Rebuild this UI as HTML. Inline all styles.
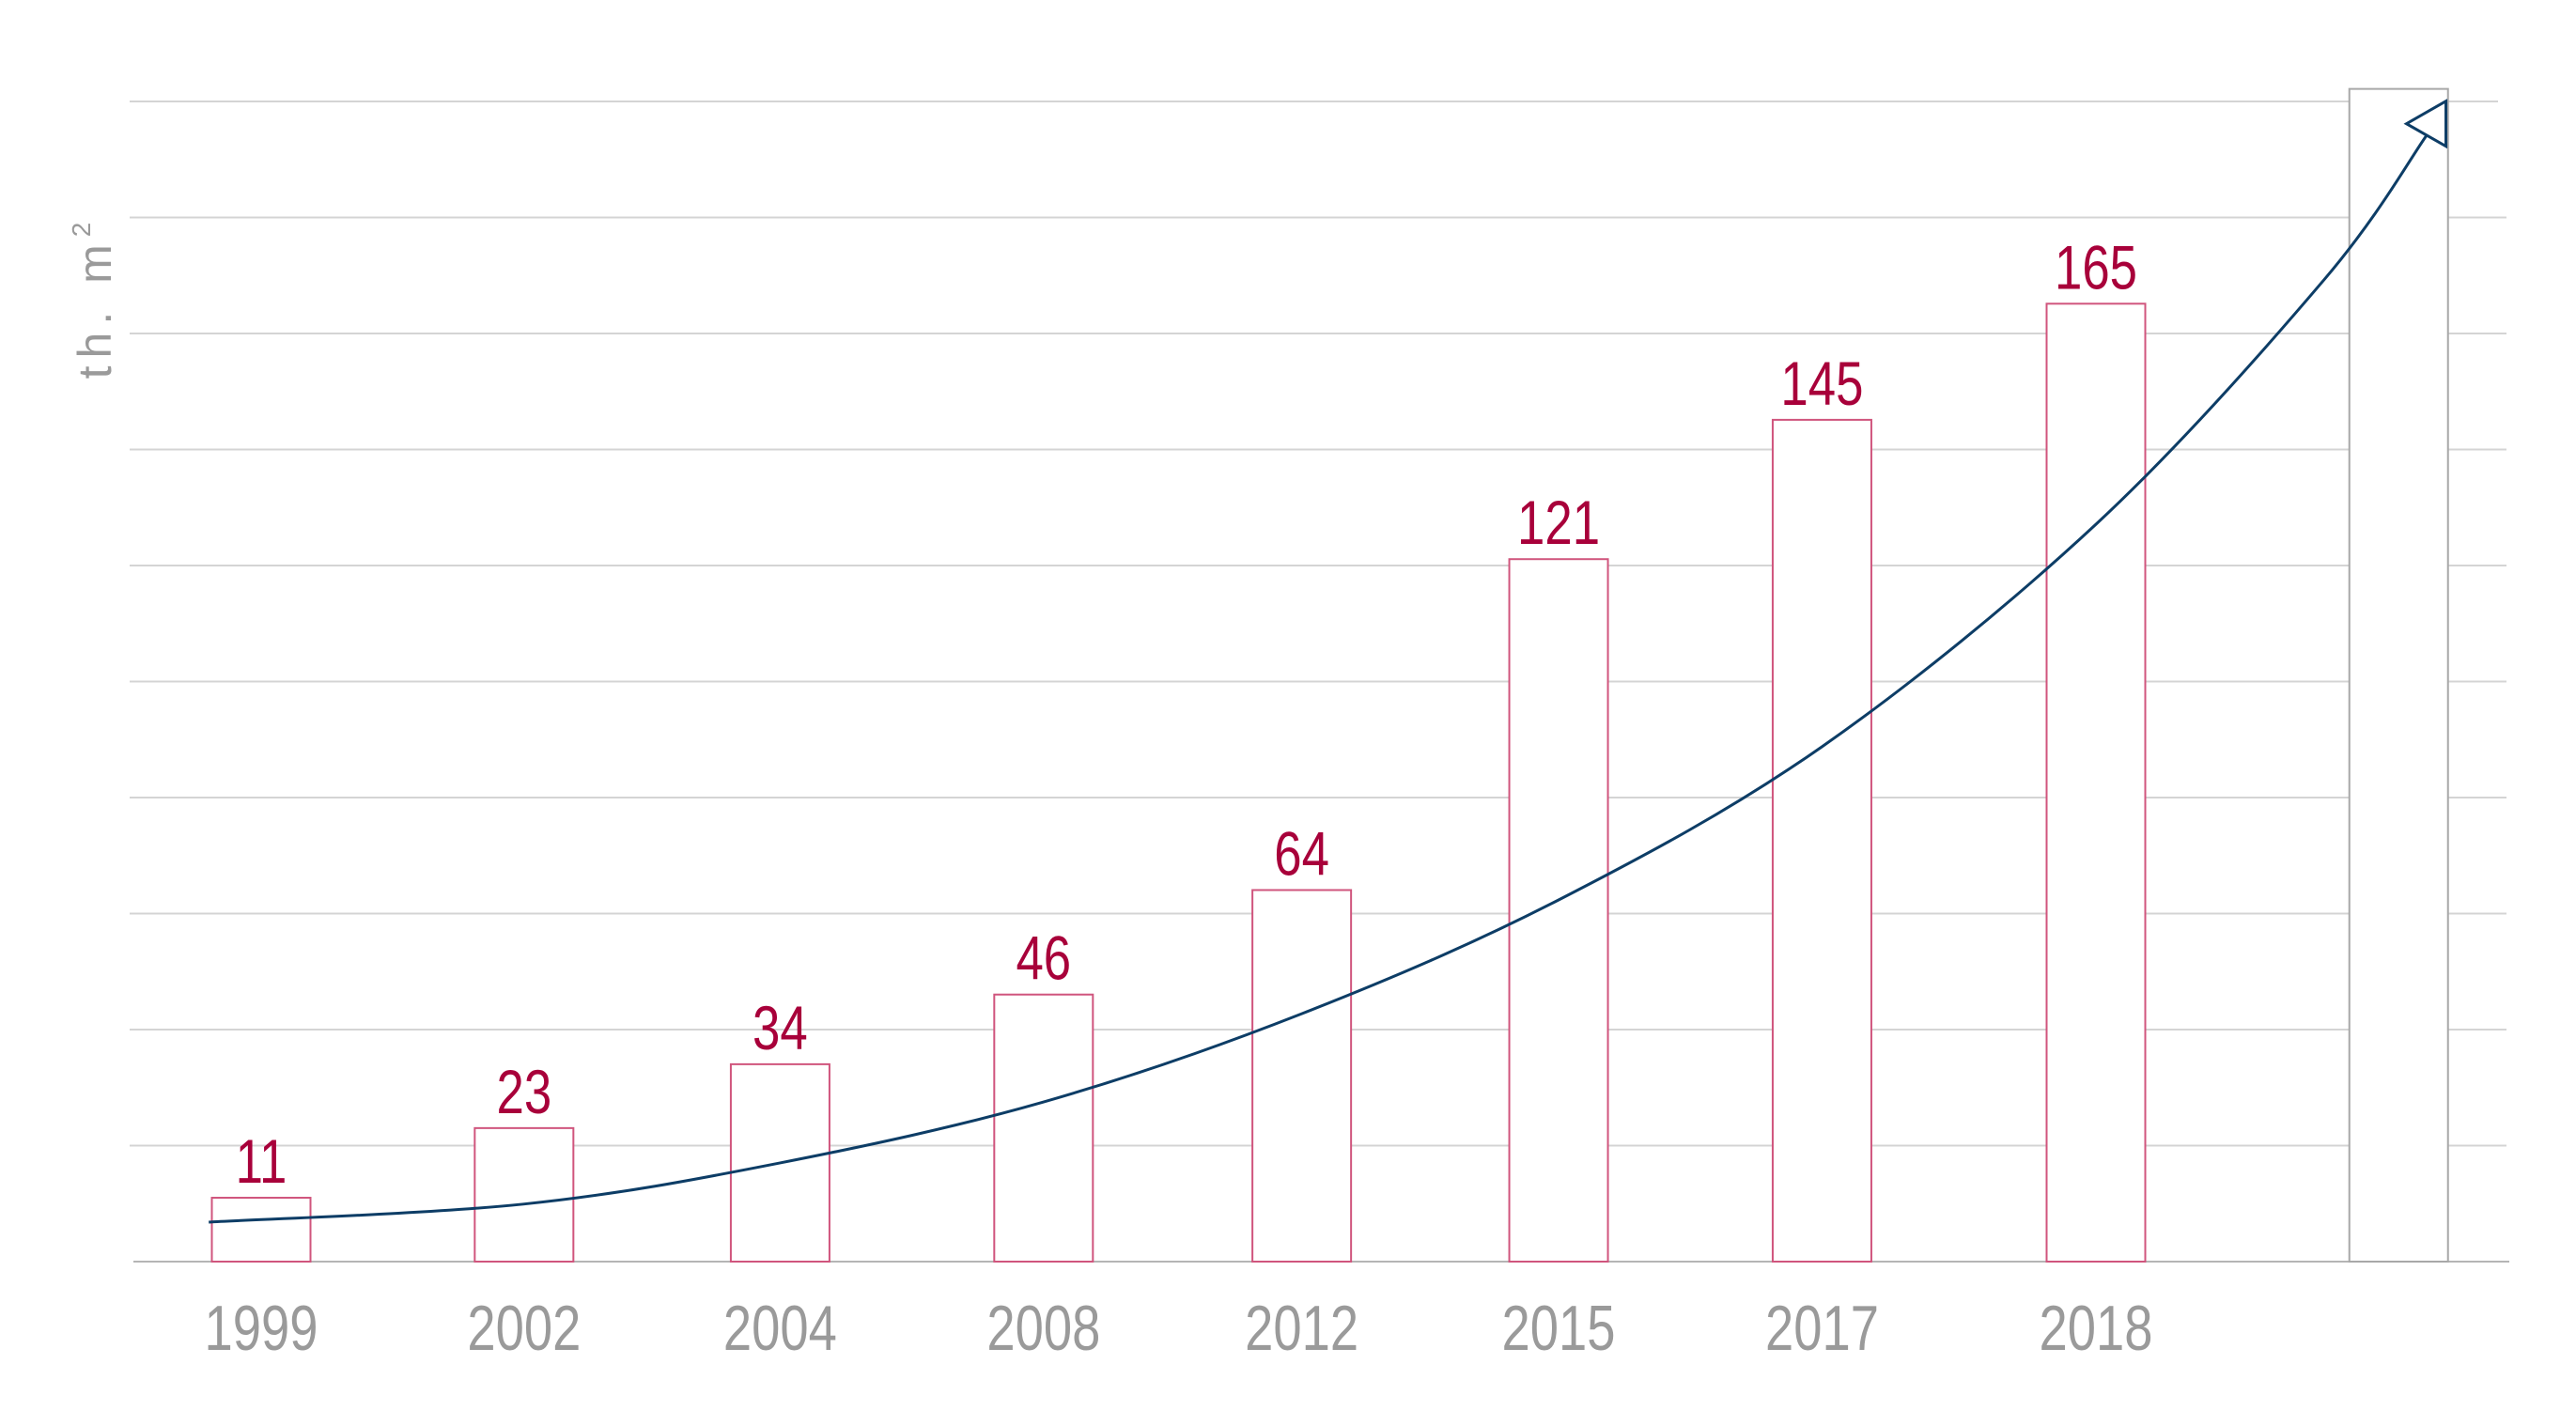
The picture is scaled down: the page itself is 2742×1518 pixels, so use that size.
<!DOCTYPE html>
<html><head><meta charset="utf-8"><style>
html,body{margin:0;padding:0;background:#fff;}
svg{display:block;font-family:"Liberation Sans",sans-serif;}
</style></head><body>
<svg id="chart" width="2742" height="1518" viewBox="0 0 2742 1518" xmlns="http://www.w3.org/2000/svg">
<g id="grid"></g>
<g id="bars"></g>
<g id="labels"></g>
<g id="xlabels"></g>
<g id="trend"></g>
<text transform="translate(118,316) rotate(-90)" text-anchor="middle" font-size="50" fill="#9a9a9a" letter-spacing="8" font-weight="300">th. m<tspan font-size="28" dy="-22">2</tspan></text>
</svg>
<script>
const categories = ["1999","2002","2004","2008","2012","2015","2017","2018",""];
const slots = [0,1.003,1.98,2.985,3.97,4.95,5.955,7.0,8.155];
const values = [11,23,34,46,64,121,145,165,202];
const valueLabels = ["11","23","34","46","64","121","145","165",""];
const trendX = [-0.2,1,1.98,2.985,3.97,4.95,5.955,7.0,7.87,8.26];
const trendY = [6.8,9.9,17.0,27.5,42.7,62.3,88.7,127.0,169.1,193.9];
const gridTicks = [0,20,40,60,80,100,120,140,160,180,200];

const NS="http://www.w3.org/2000/svg";
const baseY=1343, unit=6.18, x0=278, step=279, barW=105;
const xs = i => x0 + step*i;
const ys = v => baseY - unit*v;
const gridStep = 123.5/20;
const gy = v => baseY - gridStep*v;
function mk(tag, attrs, parent){const e=document.createElementNS(NS,tag);for(const k in attrs)e.setAttribute(k,attrs[k]);parent.appendChild(e);return e;}

const grid=document.getElementById('grid');
gridTicks.forEach((t,i)=>{
  const y=gy(t);
  const l=mk('line',{x1:i===0?142:138,x2:i===0?2671:(i===gridTicks.length-1?2659:2668),y1:y,y2:y,stroke:i===0?'#b5b5b5':'#d4d4d4','stroke-width':2},grid);
  
  
});

const bars=document.getElementById('bars'), labels=document.getElementById('labels'), xl=document.getElementById('xlabels');
values.forEach((v,i)=>{
  const cx=xs(slots[i]);
  const last=i===values.length-1;
  const r=mk('rect',{x:cx-barW/2,y:ys(v),width:barW,height:baseY-ys(v),fill:'#fff',stroke:last?'#a8a8a8':'#d0557d','stroke-width':2},bars);
  
  
  if(valueLabels[i]){
    const t=mk('text',{transform:`translate(${cx},${ys(v)-16}) scale(0.8,1)`,'text-anchor':'middle','font-size':66,fill:'#a8003a'},labels);
    t.textContent=valueLabels[i];
    
    
  }
  if(categories[i]){
    const t=mk('text',{transform:`translate(${cx},1437) scale(0.8,1)`,'text-anchor':'middle','font-size':68,fill:'#9a9a9a'},xl);
    t.textContent=categories[i];
    
    
  }
});

const pts=trendX.map((x,i)=>[xs(x),ys(trendY[i])]);
let d=`M${pts[0][0]},${pts[0][1]}`;
for(let i=0;i<pts.length-1;i++){
  const p0=pts[Math.max(0,i-1)],p1=pts[i],p2=pts[i+1],p3=pts[Math.min(pts.length-1,i+2)];
  const c1=[p1[0]+(p2[0]-p0[0])/6,p1[1]+(p2[1]-p0[1])/6];
  const c2=[p2[0]-(p3[0]-p1[0])/6,p2[1]-(p3[1]-p1[1])/6];
  d+=` C${c1[0]},${c1[1]} ${c2[0]},${c2[1]} ${p2[0]},${p2[1]}`;
}
const trend=document.getElementById('trend');
const path=mk('path',{d:d,fill:'none',stroke:'#0d3d66','stroke-width':3},trend);


const end=pts[pts.length-1];
const tip=[end[0]+21,end[1]-37];
const head=mk('polygon',{points:`${tip[0]},${tip[1]} ${tip[0]-42},${tip[1]+24} ${tip[0]},${tip[1]+48}`,fill:'#fff',stroke:'#0d3d66','stroke-width':3,'stroke-linejoin':'miter'},trend);


</script>
</body></html>
